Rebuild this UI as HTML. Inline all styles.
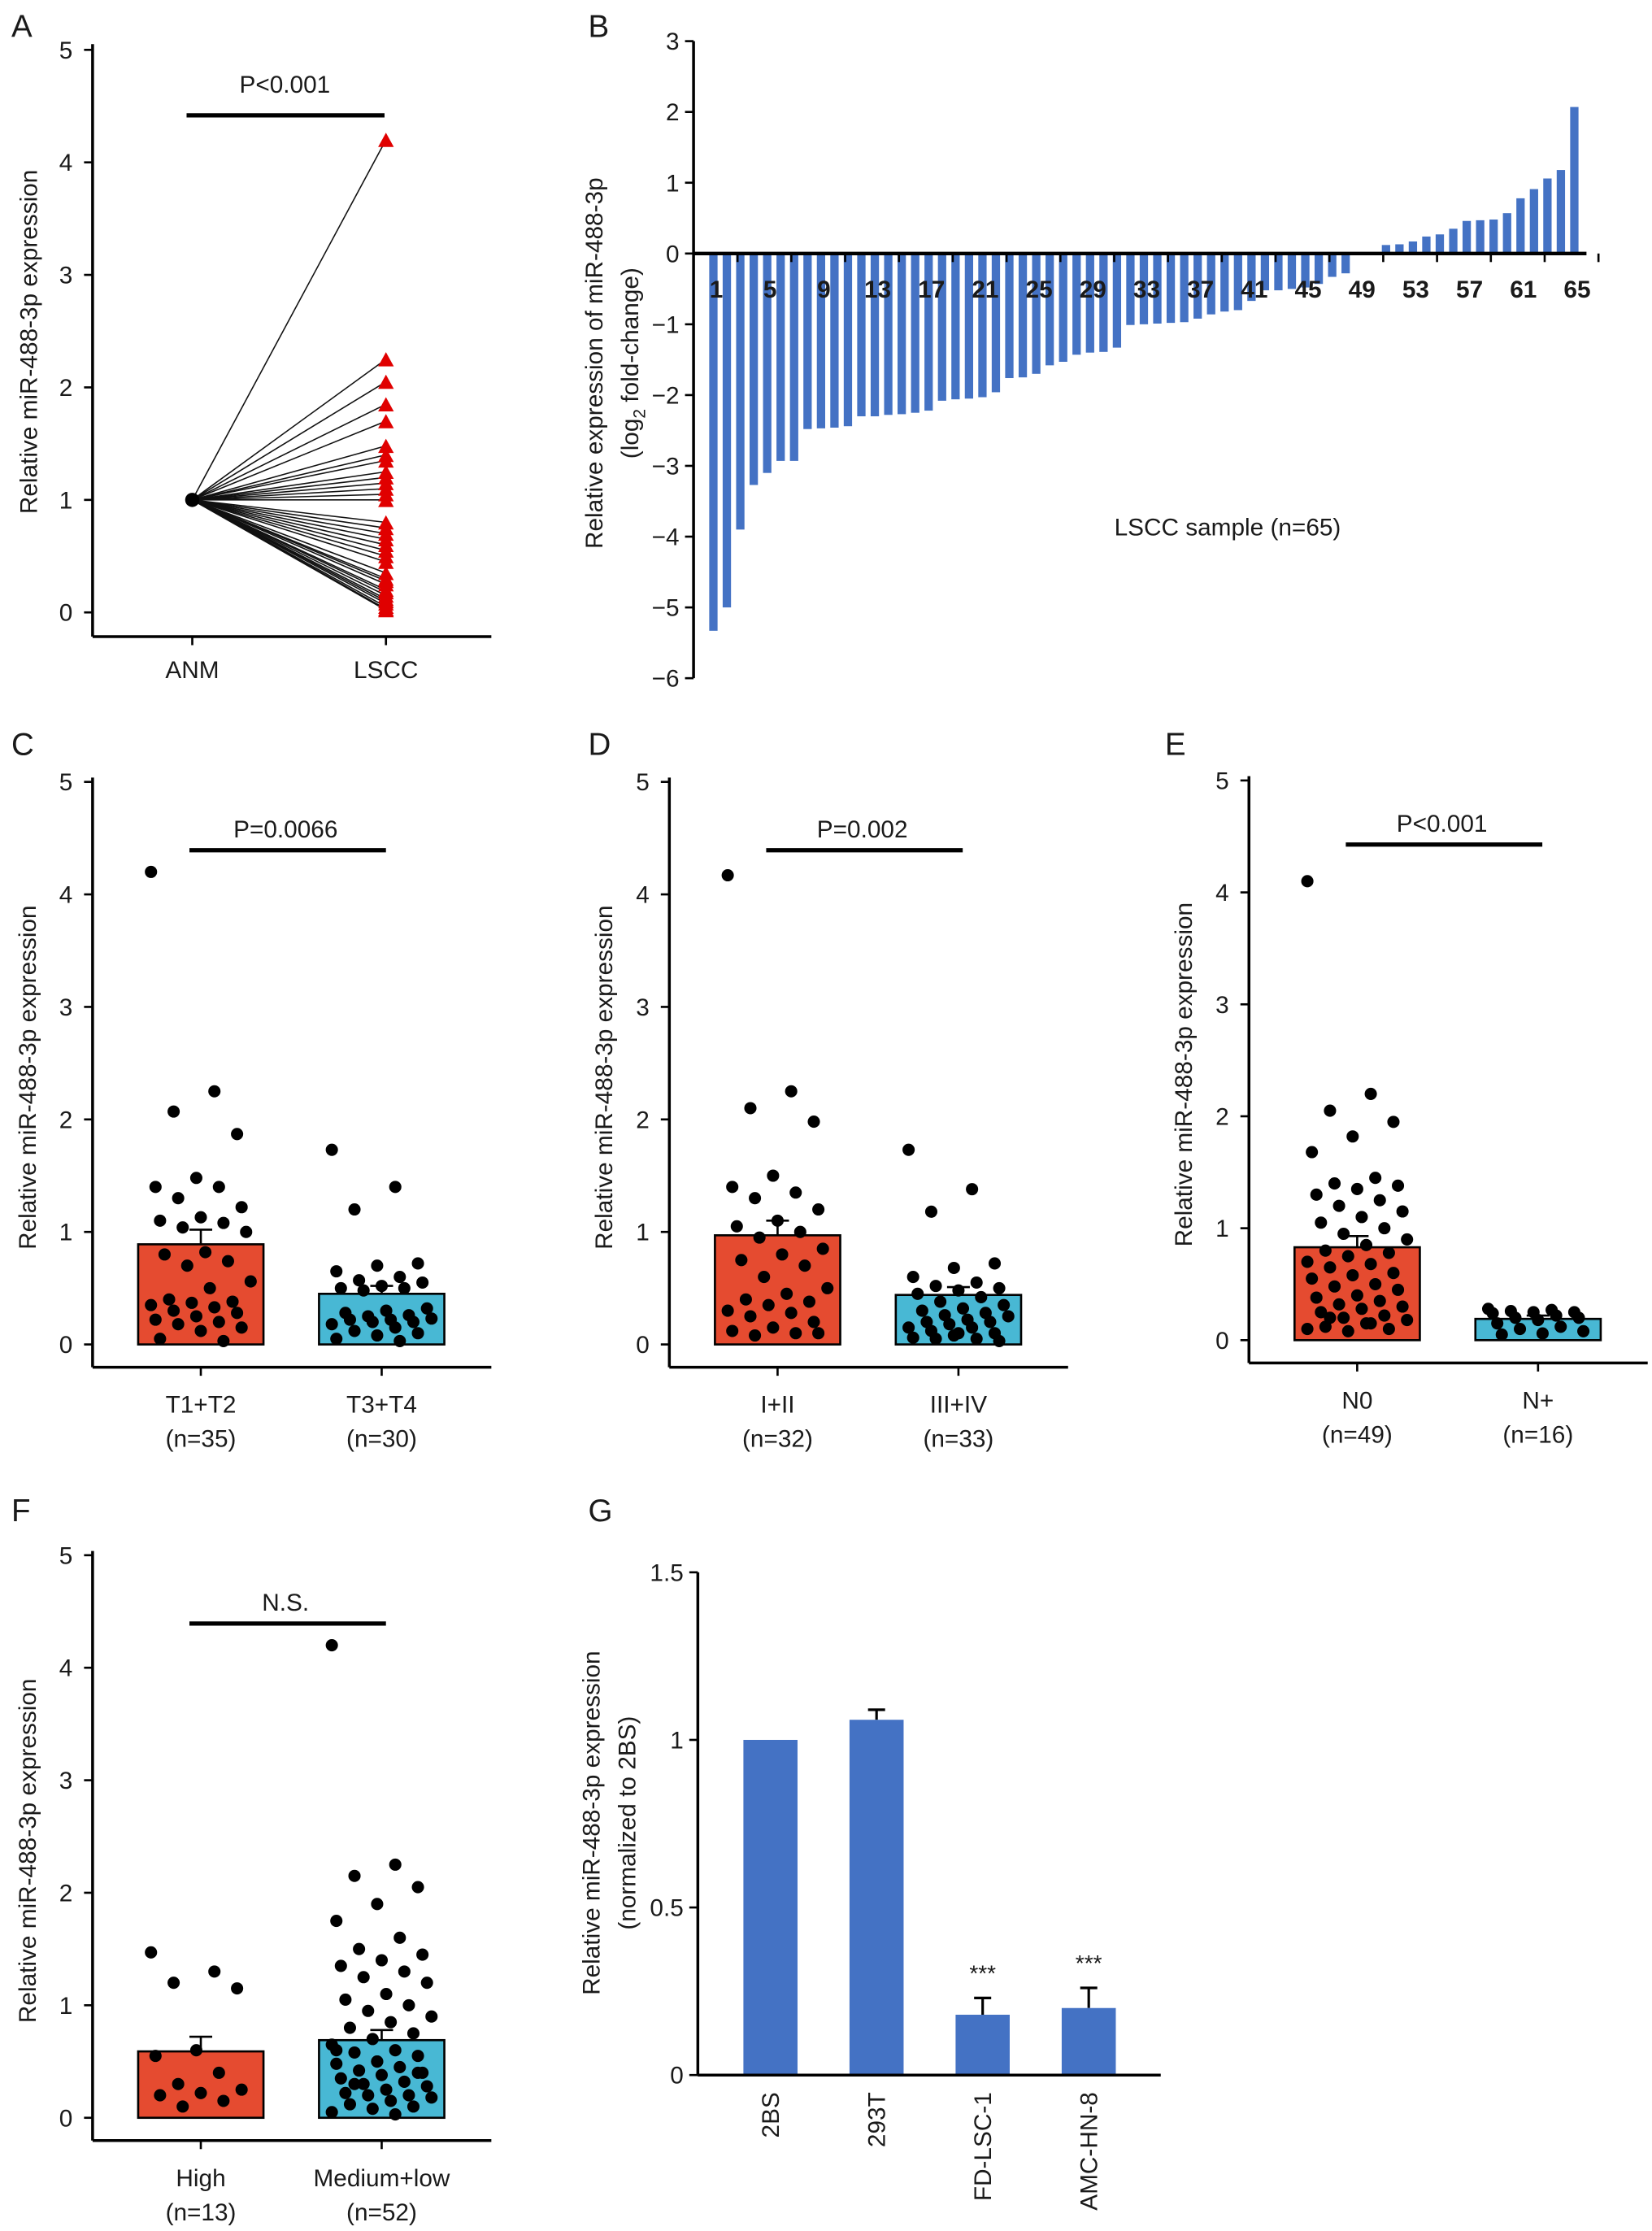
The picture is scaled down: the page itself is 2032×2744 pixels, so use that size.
<!DOCTYPE html>
<html><head><meta charset="utf-8"><style>
html,body{margin:0;padding:0;background:#fff}
svg{display:block}
text{font-family:"Liberation Sans",sans-serif;fill:#1a1a1a}
</style></head><body>
<svg id="fig" xmlns="http://www.w3.org/2000/svg" width="2032" height="2744" viewBox="0 0 1160 1566.5"></svg>
<script>
// ---- Data ----
const aLsccValues=[4.2,2.25,2.05,1.85,1.7,1.48,1.4,1.35,1.25,1.2,1.15,1.1,1.05,1.0,0.8,0.75,0.7,0.65,0.6,0.55,0.5,0.45,0.35,0.3,0.28,0.25,0.2,0.18,0.15,0.12,0.1,0.08,0.05,0.03,0.02];
const bValues=[-5.33,-5.0,-3.9,-3.27,-3.1,-2.93,-2.93,-2.48,-2.47,-2.46,-2.44,-2.3,-2.3,-2.28,-2.27,-2.25,-2.22,-2.08,-2.06,-2.05,-2.03,-1.96,-1.76,-1.75,-1.7,-1.58,-1.53,-1.43,-1.4,-1.39,-1.33,-1.01,-1.0,-0.99,-0.98,-0.97,-0.92,-0.86,-0.82,-0.8,-0.67,-0.52,-0.52,-0.5,-0.48,-0.43,-0.33,-0.28,0,0.02,0.12,0.13,0.17,0.24,0.27,0.35,0.46,0.47,0.48,0.57,0.78,0.91,1.06,1.18,2.07];
const bTicks=[3,2,1,0,-1,-2,-3,-4,-5,-6];
const cRed=[4.2,2.25,2.07,1.87,1.48,1.4,1.4,1.3,1.22,1.13,1.1,1.08,1.04,1.0,0.82,0.8,0.74,0.7,0.56,0.5,0.4,0.38,0.37,0.35,0.33,0.3,0.28,0.25,0.22,0.2,0.18,0.15,0.12,0.05,0.03];
const cBlue=[1.73,1.4,1.2,0.72,0.7,0.65,0.6,0.57,0.55,0.52,0.5,0.5,0.48,0.32,0.3,0.28,0.26,0.25,0.23,0.22,0.22,0.2,0.2,0.18,0.15,0.12,0.1,0.08,0.05,0.03];
const dRed=[4.17,2.25,2.1,1.98,1.5,1.4,1.35,1.3,1.2,1.1,1.05,1.0,0.95,0.85,0.8,0.75,0.7,0.6,0.5,0.45,0.4,0.38,0.35,0.3,0.28,0.25,0.2,0.15,0.12,0.1,0.08,0.1];
const dBlue=[1.73,1.38,1.18,0.72,0.68,0.6,0.55,0.52,0.5,0.48,0.45,0.42,0.38,0.35,0.32,0.3,0.28,0.26,0.25,0.22,0.2,0.2,0.18,0.15,0.15,0.12,0.1,0.08,0.06,0.05,0.05,0.03,0.1];
const eRed=[4.1,2.2,2.05,1.95,1.82,1.68,1.45,1.4,1.38,1.35,1.3,1.25,1.2,1.15,1.1,1.05,1.0,0.95,0.9,0.85,0.8,0.78,0.75,0.7,0.68,0.65,0.6,0.58,0.55,0.5,0.48,0.45,0.4,0.38,0.35,0.32,0.3,0.28,0.25,0.22,0.2,0.18,0.15,0.12,0.1,0.08,0.1,0.15,0.2];
const eBlue=[0.28,0.27,0.26,0.25,0.25,0.24,0.22,0.2,0.2,0.18,0.15,0.12,0.1,0.08,0.06,0.05];
const fRed=[1.47,1.3,1.2,1.15,0.6,0.55,0.4,0.3,0.25,0.22,0.2,0.15,0.1];
const fBlue=[4.2,2.25,2.15,2.05,1.9,1.75,1.6,1.5,1.45,1.4,1.35,1.3,1.25,1.2,1.1,1.05,1.0,0.95,0.9,0.85,0.8,0.75,0.7,0.65,0.6,0.58,0.55,0.5,0.48,0.45,0.42,0.4,0.38,0.35,0.32,0.3,0.28,0.25,0.22,0.2,0.2,0.18,0.15,0.12,0.1,0.08,0.05,0.03,0.3,0.4,0.5,0.6];
const cMeans=[0.89,0.45], cErr=[0.13,0.07];
const dMeans=[0.97,0.44], dErr=[0.13,0.07];
const eMeans=[0.83,0.19], eErr=[0.1,0.03];
const fMeans=[0.59,0.69], fErr=[0.13,0.09];
const gCats=["2BS","293T","FD-LSC-1","AMC-HN-8"];
const gValues=[1.0,1.06,0.18,0.2];
const gErr=[0,0.03,0.05,0.06];
const gSig=["","","***","***"];
const gTicks=[0,0.5,1,1.5];
const tickLabels5=[0,1,2,3,4,5];

const NS="http://www.w3.org/2000/svg";
const svg=document.getElementById('fig');
function el(tag,attrs,parent,txt){const e=document.createElementNS(NS,tag);for(const k in attrs)e.setAttribute(k,attrs[k]);if(txt!==undefined)e.textContent=txt;(parent||svg).appendChild(e);return e;}
function grp(name){const g=el('g',{});


return g;}
function letter(t,x,y){const e=el('text',{x:x,y:y,'font-size':22},svg,t);

}
function yTitle(g,lines,x,cy){lines.forEach((l,i)=>{const t=el('text',{x:0,y:0,'font-size':17,'text-anchor':'middle',transform:`translate(${x+i*25},${cy}) rotate(-90)`},g);


if(typeof l==='string')t.textContent=l;else l(t);});}

// ---- Panel A ----
letter('A',8,26);
(function(){const g=grp('panel-a');const ax=65,y0=430,y5=35,xa=447;const ys=v=>y0+(y5-y0)*v/5;
const xA=135,xL=271;
el('line',{x1:ax,y1:y5-4,x2:ax,y2:xa,stroke:'#000','stroke-width':2},g);
el('line',{x1:ax,y1:xa,x2:345,y2:xa,stroke:'#000','stroke-width':2},g);
tickLabels5.forEach(v=>{el('line',{x1:ax-6,y1:ys(v),x2:ax,y2:ys(v),stroke:'#000','stroke-width':1.5},g);const t=el('text',{x:ax-14,y:ys(v)+6,'font-size':17,'text-anchor':'end'},g,v);

});
[[xA,'ANM'],[xL,'LSCC']].forEach(([x,l])=>{el('line',{x1:x,y1:xa,x2:x,y2:xa+6,stroke:'#000','stroke-width':1.5},g);const t=el('text',{x:x,y:476,'font-size':17,'text-anchor':'middle'},g,l);

});
yTitle(g,['Relative miR-488-3p expression'],26,240);
aLsccValues.forEach(v=>{const l=el('line',{x1:xA,y1:ys(1),x2:xL,y2:ys(v),stroke:'#111','stroke-width':0.9},g);

});
aLsccValues.forEach(v=>{const y=ys(v);const p=el('polygon',{points:`${xL-5.5},${y+5} ${xL+5.5},${y+5} ${xL},${y-5}`,fill:'#e00000'},g);

});
const c=el('circle',{cx:xA,cy:ys(1),r:5,fill:'#000'},g);


el('line',{x1:131,y1:81,x2:270,y2:81,stroke:'#000','stroke-width':3},g);
const t=el('text',{x:200,y:65,'font-size':17,'text-anchor':'middle'},g,'P<0.001');

})();

// ---- Panel B ----
letter('B',413,26);
(function(){const g=grp('panel-b');const ax=487,x0=497,x1=1111;const ys=v=>178-v*49.7;const pitch=(x1-x0)/bValues.length;
el('line',{x1:ax,y1:ys(3),x2:ax,y2:ys(-6),stroke:'#000','stroke-width':2},g);
bTicks.forEach(v=>{el('line',{x1:ax-6,y1:ys(v),x2:ax,y2:ys(v),stroke:'#000','stroke-width':1.5},g);const t=el('text',{x:ax-10,y:ys(v)+6,'font-size':17,'text-anchor':'end'},g,v<0?'\u2212'+(-v):v);

});
bValues.forEach((v,i)=>{const x=x0+i*pitch+1;const y=Math.min(ys(0),ys(v));const h=Math.abs(ys(v)-ys(0));const r=el('rect',{x:x,y:y,width:pitch*0.62,height:Math.max(h,0.5),fill:'#4472c4'},g);

});
el('line',{x1:ax,y1:ys(0),x2:x1+3,y2:ys(0),stroke:'#000','stroke-width':2.5},g);
bValues.forEach((v,i)=>{if(i%4===0){const cx=x0+i*pitch+pitch*0.31;el('line',{x1:cx+pitch*1.9,y1:ys(0),x2:cx+pitch*1.9,y2:ys(0)+6,stroke:'#000','stroke-width':1.5},g);const t=el('text',{x:cx+3,y:209,'font-size':17,'font-weight':'bold','text-anchor':'middle'},g,i+1);

}});
const t=el('text',{x:862,y:376,'font-size':17,'text-anchor':'middle'},g,'LSCC sample (n=65)');


yTitle(g,['Relative expression of miR-488-3p',t2=>{t2.innerHTML='(log<tspan font-size="12" dy="5">2</tspan><tspan dy="-5"> fold-change)</tspan>';}],423,255);})();

// ---- Dot/bar panels ----
function dotPanel(name,L,o){const g=grp(name);letter(L,o.lx,o.ly);const ax=o.ax,y0=o.y0,y5=o.y5,xa=o.xa;const ys=v=>y0+(y5-y0)*v/5;
el('line',{x1:ax,y1:y5-3,x2:ax,y2:xa,stroke:'#000','stroke-width':2},g);
el('line',{x1:ax,y1:xa,x2:ax+280,y2:xa,stroke:'#000','stroke-width':2},g);
tickLabels5.forEach(v=>{el('line',{x1:ax-6,y1:ys(v),x2:ax,y2:ys(v),stroke:'#000','stroke-width':1.5},g);const t=el('text',{x:ax-14,y:ys(v)+6,'font-size':17,'text-anchor':'end'},g,v);

});
yTitle(g,['Relative miR-488-3p expression'],o.ax-40,(y0+y5)/2+10);
const centers=[ax+76,ax+203];const cols=['#e54b30','#48b8d4'];
[0,1].forEach(k=>{const cx=centers[k];const m=o.means[k];
el('line',{x1:cx,y1:ys(m),x2:cx,y2:ys(m+o.err[k]),stroke:'#000','stroke-width':1.5},g);
el('line',{x1:cx-8,y1:ys(m+o.err[k]),x2:cx+8,y2:ys(m+o.err[k]),stroke:'#000','stroke-width':1.5},g);
const r=el('rect',{x:cx-44,y:ys(m),width:88,height:ys(0)-ys(m),fill:cols[k],stroke:'#000','stroke-width':1.5},g);


o.vals[k].forEach((v,i)=>{const jit=(((i*37)%23)/22-0.5)*70;const c=el('circle',{cx:cx+jit,cy:ys(v),r:4.3,fill:'#000'},g);

});
el('line',{x1:cx,y1:xa,x2:cx,y2:xa+6,stroke:'#000','stroke-width':1.5},g);
const t1=el('text',{x:cx,y:xa+32,'font-size':17,'text-anchor':'middle'},g,o.cats[k][0]);


const t2=el('text',{x:cx,y:xa+56,'font-size':17,'text-anchor':'middle'},g,o.cats[k][1]);

});
el('line',{x1:centers[0]-8,y1:o.sy,x2:centers[1]+3,y2:o.sy,stroke:'#000','stroke-width':3},g);
const t=el('text',{x:(centers[0]+centers[1])/2-4,y:o.sy-9,'font-size':17,'text-anchor':'middle'},g,o.p);

}
dotPanel('panel-c','C',{lx:8,ly:530,ax:65,y0:944,y5:549,xa:960,sy:597,p:'P=0.0066',means:cMeans,err:cErr,vals:[cRed,cBlue],cats:[['T1+T2','(n=35)'],['T3+T4','(n=30)']]});
dotPanel('panel-d','D',{lx:413,ly:530,ax:470,y0:944,y5:549,xa:960,sy:597,p:'P=0.002',means:dMeans,err:dErr,vals:[dRed,dBlue],cats:[['I+II','(n=32)'],['III+IV','(n=33)']]});
dotPanel('panel-e','E',{lx:818,ly:530,ax:877,y0:941,y5:548,xa:957,sy:593,p:'P<0.001',means:eMeans,err:eErr,vals:[eRed,eBlue],cats:[['N0','(n=49)'],['N+','(n=16)']]});
dotPanel('panel-f','F',{lx:8,ly:1068,ax:65,y0:1487,y5:1092,xa:1503,sy:1140,p:'N.S.',means:fMeans,err:fErr,vals:[fRed,fBlue],cats:[['High','(n=13)'],['Medium+low','(n=52)']]});

// ---- Panel G ----
letter('G',413,1068);
(function(){const g=grp('panel-g');const ax=490,y0=1457,ytop=1104;const ys=v=>y0+(ytop-y0)*v/1.5;
el('line',{x1:ax,y1:ytop,x2:ax,y2:y0,stroke:'#000','stroke-width':2},g);
el('line',{x1:ax,y1:y0,x2:815,y2:y0,stroke:'#000','stroke-width':2},g);
gTicks.forEach(v=>{el('line',{x1:ax-6,y1:ys(v),x2:ax,y2:ys(v),stroke:'#000','stroke-width':1.5},g);const t=el('text',{x:ax-10,y:ys(v)+6,'font-size':17,'text-anchor':'end'},g,v);

});
yTitle(g,['Relative miR-488-3p expression','(normalized to 2BS)'],421,1280);
gCats.forEach((c,i)=>{const cx=541+i*74.5;
if(gErr[i]>0){el('line',{x1:cx,y1:ys(gValues[i]),x2:cx,y2:ys(gValues[i]+gErr[i]),stroke:'#000','stroke-width':1.8},g);el('line',{x1:cx-6,y1:ys(gValues[i]+gErr[i]),x2:cx+6,y2:ys(gValues[i]+gErr[i]),stroke:'#000','stroke-width':1.8},g);}
const r=el('rect',{x:cx-19,y:ys(gValues[i]),width:38,height:ys(0)-ys(gValues[i]),fill:'#4472c4'},g);


if(gSig[i]){const s=el('text',{x:cx,y:ys(gValues[i]+gErr[i])-12,'font-size':16,'text-anchor':'middle',fill:'#444'},g,gSig[i]);

}
const t=el('text',{x:0,y:0,'font-size':17,'text-anchor':'end',transform:`translate(${cx+6},${y0+12}) rotate(-90)`},g,c);

});
el('line',{x1:ax,y1:y0,x2:815,y2:y0,stroke:'#000','stroke-width':2},g);})();
</script>
</body></html>
